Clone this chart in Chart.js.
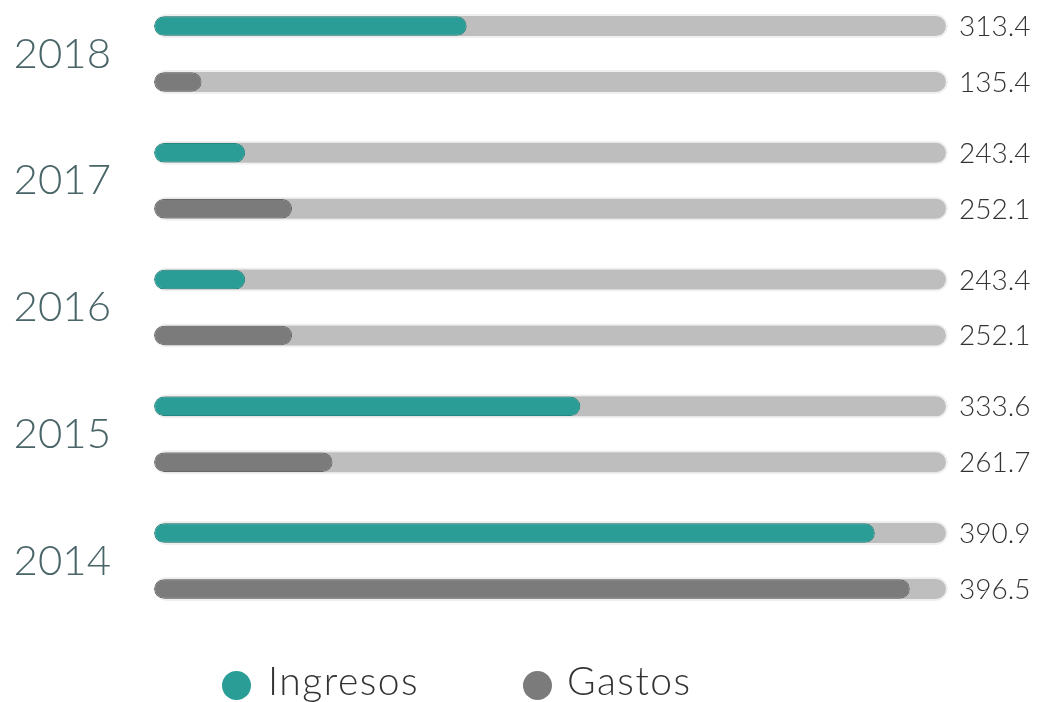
<!DOCTYPE html>
<html>
<head>
<meta charset="utf-8">
<script src="https://cdn.jsdelivr.net/npm/chart.js@4.4.0/dist/chart.umd.min.js"></script>
<style>
html, body { margin: 0; padding: 0; background: #fff; }
#wrap { position: relative; width: 1048px; height: 702px; }
#legend .dot { position: absolute; width: 29px; height: 29px; border-radius: 50%; top: 671px; }
#legend .txt { position: absolute; top: 661px; font: 300 39px Lato, sans-serif; line-height: 39px; letter-spacing: 1.5px; color: #333; }
</style>
</head>
<body>
<div id="wrap">
  <canvas id="chart" width="1048" height="702"></canvas>
  <div id="legend"></div>
</div>
<script>
// years, top to bottom
var years = ['2018', '2017', '2016', '2015', '2014'];

// numbers printed at the right of each bar
var ingresosValues = [313.4, 243.4, 243.4, 333.6, 390.9];
var gastosValues = [135.4, 252.1, 252.1, 261.7, 396.5];

// how far each bar is filled, in % of the track
var ingresosFill = [39.4, 11.5, 11.5, 53.7, 90.8];
var gastosFill = [6.0, 17.4, 17.4, 22.5, 95.2];

var trackMax = 100;
var seriesNames = ['Ingresos', 'Gastos'];
var seriesColors = ['#2a9d97', '#7b7b7b'];

var track = years.map(function () { return trackMax; });

var valueLabels = {
    id: 'valueLabels',
    afterDatasetsDraw: function (chart) {
        var ctx = chart.ctx;
        ctx.save();
        ctx.font = '300 28px Lato, sans-serif';
        ctx.fillStyle = '#333';
        ctx.textAlign = 'left';
        ctx.textBaseline = 'middle';
        [ingresosValues, gastosValues].forEach(function (vals, d) {
            var meta = chart.getDatasetMeta(d + 2);
            meta.data.forEach(function (bar, i) {
                ctx.fillText(vals[i].toFixed(1), chart.chartArea.right + 11, bar.y + 1);
            });
        });
        ctx.restore();
    }
};

var fillOpts = {
    borderWidth: 1,
    borderRadius: 12,
    borderSkipped: false,
    barPercentage: 0.35,
    categoryPercentage: 0.88,
    order: 1,
    clip: false
};
var trackOpts = {
    backgroundColor: '#bebebe',
    borderColor: '#efefef',
    borderWidth: 2,
    borderRadius: 14,
    borderSkipped: false,
    barPercentage: 0.43,
    categoryPercentage: 0.88,
    order: 2,
    clip: false
};

var chart = new Chart(document.getElementById('chart'), {
    type: 'bar',
    data: {
        labels: years,
        datasets: [
            Object.assign({ label: seriesNames[0], data: ingresosFill, stack: 'ing', backgroundColor: seriesColors[0], borderColor: '#23867f' }, fillOpts),
            Object.assign({ label: seriesNames[1], data: gastosFill, stack: 'gas', backgroundColor: seriesColors[1], borderColor: '#676767' }, fillOpts),
            Object.assign({ label: 'track-ing', data: track, stack: 'ing' }, trackOpts),
            Object.assign({ label: 'track-gas', data: track, stack: 'gas' }, trackOpts)
        ]
    },
    options: {
        indexAxis: 'y',
        responsive: false,
        animation: false,
        layout: { padding: { top: 54, bottom: 141, left: 0, right: 100 } },
        plugins: {
            legend: { display: false },
            tooltip: { enabled: false }
        },
        scales: {
            x: { min: 0, max: trackMax, display: false, stacked: false },
            y: {
                stacked: true,
                offset: false,
                grid: { display: false, drawTicks: false },
                border: { display: false },
                ticks: {
                    padding: 43,
                    color: '#4a6568',
                    font: { family: 'Lato', size: 42, weight: '300' }
                },
                afterFit: function (scale) {
                    scale.width = 154;
                    // tick padding is only wanted sideways
                    scale.paddingTop = 0;
                    scale.paddingBottom = 0;
                }
            }
        }
    },
    plugins: [valueLabels]
});

// legend under the chart
var legend = document.getElementById('legend');
var dotX = [222, 523];
var txtX = [268, 567];
seriesNames.forEach(function (name, i) {
    var dot = document.createElement('div');
    dot.className = 'dot';
    dot.style.left = dotX[i] + 'px';
    dot.style.background = seriesColors[i];
    legend.appendChild(dot);
    var txt = document.createElement('div');
    txt.className = 'txt';
    txt.style.left = txtX[i] + 'px';
    txt.textContent = name;
    legend.appendChild(txt);
});
</script>
</body>
</html>
